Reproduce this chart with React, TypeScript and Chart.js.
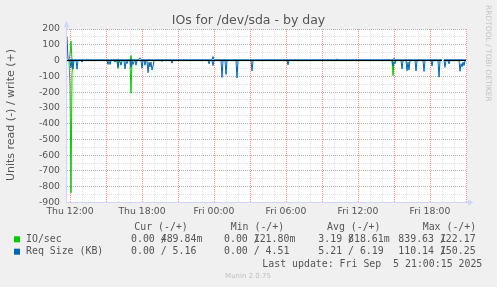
import React, { useEffect, useRef } from 'react';
import { Chart, registerables } from 'chart.js';

Chart.register(...registerables);

const W = 497;
const H = 287;

// time axis: minutes since Thu 12:00 (5-minute samples)
const xTickMinutes = [0, 360, 720, 1080, 1440, 1800];
const xTickLabels = ['Thu 12:00', 'Thu 18:00', 'Fri 00:00', 'Fri 06:00', 'Fri 12:00', 'Fri 18:00'];
const yTickValues = [200, 100, 0, -100, -200, -300, -400, -500, -600, -700, -800, -900];

type P = [number, number | null];

// IO/sec read (drawn negative)
const ioRead: P[] = [
  [-15, 0], [-5, 0], [0, -160], [5, -839], [10, -80], [15, 0],
  [235, 0], [240, -50], [245, 0],
  [300, 0], [305, -207], [310, 0],
  [1610, 0], [1615, -95], [1620, 0],
  [1860, 0], [1865, null], [1870, 0],
  [1980, 0],
];
// IO/sec write
const ioWrite: P[] = [
  [-15, 0], [-5, 0], [0, 40], [5, 122], [10, 0],
  [300, 0], [305, 32], [310, 0],
  [1860, 0], [1865, null], [1870, 0],
  [1980, 0],
];
// Req Size read (drawn negative)
const reqRead: P[] = [
  [-15, 0], [0, 0], [5, -45], [10, 0], [15, -55], [20, 0], [30, 0], [35, -55], [40, 0], [55, 0], [60, -10], [65, 0],
  [185, 0], [190, -25], [195, -5], [200, -25], [205, 0], [220, 0], [225, -10], [230, 0], [235, 0], [240, -43], [245, -5],
  [250, -5], [255, -30], [260, 0], [270, 0], [275, -53], [280, -5], [285, -20], [290, 0], [300, 0], [305, -43], [310, -5],
  [315, -25], [320, -5], [325, 0], [330, -30], [335, 0], [355, 0], [360, -49], [365, 0], [370, 0], [375, -30], [380, 0],
  [385, -5], [390, -77], [395, -10], [400, -40], [405, -10], [410, -60], [415, -35], [420, 0], [455, 0], [460, -5], [465, 0],
  [505, 0], [510, -17], [515, 0],
  [690, 0], [695, -21], [700, 0], [710, 0], [715, -32], [720, 0], [755, 0], [760, -107], [765, 0], [775, 0], [780, -88],
  [785, 0], [830, 0], [835, -110], [840, 0], [905, 0], [910, -66], [915, 0], [1085, 0], [1090, -28], [1095, 0],
  [1610, 0], [1615, -35], [1620, -10], [1625, -20], [1630, 0], [1655, 0], [1660, -53], [1665, 0], [1680, 0], [1685, -64],
  [1690, -10], [1695, -60], [1700, 0], [1725, 0], [1730, -66], [1735, 0], [1765, 0], [1770, -69], [1775, 0], [1805, 0],
  [1810, -35], [1815, 0], [1840, 0], [1845, -105], [1850, 0], [1860, 0], [1865, null], [1870, 0], [1875, -43], [1880, 0],
  [1890, 0], [1895, -21], [1900, 0], [1945, 0], [1950, -68], [1955, -20], [1960, -40], [1965, -10], [1970, -32], [1975, 0],
  [1980, 0],
];
// Req Size write
const reqWrite: P[] = [
  [-15, 150], [-10, 5], [235, 5], [240, 10], [245, 5], [300, 5], [305, 10], [310, 5], [345, 5], [350, 17], [355, 5],
  [710, 5], [715, 25], [720, 5], [1330, 5], [1335, 10], [1340, 5], [1615, 5], [1620, 15], [1625, 5],
  [1860, 5], [1865, null], [1870, 5], [1980, 5],
];
// zero line
const zeroLine: P[] = [[-15, 0], [1860, 0], [1865, null], [1870, 0], [1980, 0]];

const legendNames = ['IO/sec', 'Req Size (KB)'];
const legendColors = ['#00CC00', '#0066B3'];
const legendHeads = ['Cur (-/+)', 'Min (-/+)', 'Avg (-/+)', 'Max (-/+)'];
const curVals = [['0.00', '489.84m'], ['0.00', '5.16']];
const minVals = [['0.00', '121.80m'], ['0.00', '4.51']];
const avgVals = [['3.19', '818.61m'], ['5.21', '6.19']];
const maxVals = [['839.63', '122.17'], ['110.14', '150.25']];
const lastUpdate = 'Last update: Fri Sep  5 21:00:15 2025';
const muninVersion = 'Munin 2.0.75';
const titleText = 'IOs for /dev/sda - by day';
const yTitle = 'Units read (-) / write (+)';
const watermark = 'RRDTOOL / TOBI OETIKER';

const FONT = '#555555';
const AXIS = '#CFD6F8';
const GRID = '#E2E2E2';
const MGRID = '#E99C9C';

const pad6 = (s: string) => {
  const m = s.match(/^(-?[0-9.]+)(.*)$/);
  const num = m ? m[1] : s;
  const suf = m ? m[2] : '';
  return num.padStart(6, ' ') + suf;
};

const toXY = (arr: P[]) => arr.map(([x, y]) => ({ x, y }));

const muninPlugin = {
  id: 'munin',
  beforeDraw(chart: any) {
    const { ctx, chartArea: a } = chart;
    ctx.save();
    ctx.fillStyle = '#F0F0F0';
    ctx.fillRect(0, 0, chart.width, chart.height);
    ctx.fillStyle = '#FFFFFF';
    ctx.fillRect(a.left, a.top, a.right - a.left, a.bottom - a.top);
    ctx.restore();
  },
  afterDraw(chart: any) {
    const { ctx, chartArea: a } = chart;
    ctx.save();
    // axes
    ctx.strokeStyle = AXIS;
    ctx.fillStyle = AXIS;
    ctx.lineWidth = 1;
    ctx.beginPath();
    ctx.moveTo(a.left - 0.5, a.bottom + 0.5);
    ctx.lineTo(a.left - 0.5, a.top - 2);
    ctx.moveTo(a.left - 1, a.bottom);
    ctx.lineTo(a.right + 1, a.bottom);
    ctx.stroke();
    ctx.beginPath();
    ctx.moveTo(a.left - 0.5, a.top - 8);
    ctx.lineTo(a.left - 3.5, a.top - 1.5);
    ctx.lineTo(a.left + 2.5, a.top - 1.5);
    ctx.closePath();
    ctx.fill();
    ctx.beginPath();
    ctx.moveTo(a.right + 6.5, a.bottom);
    ctx.lineTo(a.right + 1, a.bottom - 3);
    ctx.lineTo(a.right + 1, a.bottom + 3);
    ctx.closePath();
    ctx.fill();

    // title
    ctx.fillStyle = FONT;
    ctx.font = '12.5px "DejaVu Sans"';
    ctx.textAlign = 'center';
    ctx.textBaseline = 'alphabetic';
    ctx.fillText(titleText, W / 2, 24);

    // y title
    ctx.save();
    ctx.translate(11, 115);
    ctx.rotate(-Math.PI / 2);
    ctx.font = '11px "DejaVu Sans"';
    ctx.textAlign = 'center';
    ctx.textBaseline = 'middle';
    ctx.fillText(yTitle, 0, 0);
    ctx.restore();

    // watermark
    ctx.save();
    ctx.translate(488.3, 5);
    ctx.rotate(Math.PI / 2);
    ctx.font = '7.5px "DejaVu Sans"';
    ctx.fillStyle = '#C4C4C4';
    ctx.textAlign = 'left';
    ctx.textBaseline = 'middle';
    ctx.fillText(watermark, 0, 0);
    ctx.restore();

    // legend
    ctx.font = '9.9px "DejaVu Sans Mono"';
    ctx.textBaseline = 'middle';
    ctx.textAlign = 'left';
    ctx.fillStyle = FONT;
    const cw = ctx.measureText('0').width;
    const headX = [134.3, 230.7, 327, 422.7];
    const colX = [119.1, 212.1, 306.4, 398.3];
    const rowY = [239.3, 251.7];
    legendHeads.forEach((h, i) => ctx.fillText(h, headX[i], 227.7));
    const cols = [curVals, minVals, avgVals, maxVals];
    legendNames.forEach((name, s) => {
      const y = rowY[s];
      ctx.fillStyle = legendColors[s];
      ctx.fillRect(14, y - 3, 6, 6);
      ctx.fillStyle = FONT;
      ctx.fillText(name, 26, y);
      cols.forEach((col, c) => {
        const [r, w] = col[s];
        ctx.fillText(pad6(r), colX[c], y);
        ctx.fillText('/', colX[c] + 7 * cw, y);
        ctx.fillText(pad6(w), colX[c] + 7 * cw, y);
      });
    });
    ctx.textAlign = 'right';
    ctx.fillText(lastUpdate, 482.3, 264);

    ctx.font = '7px "DejaVu Sans"';
    ctx.fillStyle = '#BEBEBE';
    ctx.textAlign = 'center';
    ctx.fillText(muninVersion, 248, 276);
    ctx.restore();
  },
};

export default function App() {
  const ref = useRef<HTMLCanvasElement>(null);
  useEffect(() => {
    document.body.style.margin = '0';
    const canvas = ref.current!;
    const hourTicks: number[] = [];
    for (let m = 0; m <= 1980; m += 60) hourTicks.push(m);
    const yGrid: number[] = [];
    for (let v = -900; v <= 200; v += 50) yGrid.push(v);
    const base = { borderWidth: 1, pointRadius: 0, tension: 0, spanGaps: false, fill: false };
    const chart = new Chart(canvas, {
      type: 'line',
      data: {
        datasets: [
          { ...base, label: 'zero', data: toXY(zeroLine), borderColor: '#000000', order: 1 },
          { ...base, label: 'reqWrite', data: toXY(reqWrite), borderColor: '#0066B3', order: 2 },
          { ...base, label: 'reqRead', data: toXY(reqRead), borderColor: '#0066B3', order: 3 },
          { ...base, label: 'ioWrite', data: toXY(ioWrite), borderColor: '#00CC00', order: 4 },
          { ...base, label: 'ioRead', data: toXY(ioRead), borderColor: '#00CC00', order: 5 },
        ] as any,
      },
      options: {
        responsive: false,
        animation: false,
        devicePixelRatio: 1,
        layout: { padding: { left: 0, top: 29, right: 30, bottom: 0 } },
        plugins: { legend: { display: false }, tooltip: { enabled: false }, title: { display: false } },
        scales: {
          x: {
            type: 'linear',
            min: -15,
            max: 1985,
            afterBuildTicks: (s: any) => { s.ticks = hourTicks.map((v) => ({ value: v })); },
            afterFit: (s: any) => { s.height = H - 202.5; },
            grid: {
              color: (c: any) => (c.tick && c.tick.value % 180 === 0 ? MGRID : GRID),
              lineWidth: 1,
              drawTicks: false,
            },
            border: { display: false, dash: [1, 1] },
            ticks: {
              autoSkip: false,
              maxRotation: 0,
              padding: 4,
              color: FONT,
              font: { family: 'DejaVu Sans', size: 9.3 },
              callback: (v: any) => {
                const i = xTickMinutes.indexOf(Number(v));
                return i >= 0 ? xTickLabels[i] : '';
              },
            },
          },
          y: {
            type: 'linear',
            min: -900,
            max: 200,
            afterBuildTicks: (s: any) => { s.ticks = yGrid.map((v) => ({ value: v })); },
            afterFit: (s: any) => { s.width = 67; },
            grid: {
              color: (c: any) => (c.tick && c.tick.value % 100 === 0 ? MGRID : GRID),
              lineWidth: 1,
              drawTicks: false,
            },
            border: { display: false, dash: [1, 1] },
            ticks: {
              autoSkip: false,
              padding: 7,
              color: FONT,
              font: { family: 'DejaVu Sans', size: 9.3 },
              callback: (v: any) => (yTickValues.indexOf(Number(v)) >= 0 ? String(v) : ''),
            },
          },
        },
      } as any,
      plugins: [muninPlugin],
    });
    return () => chart.destroy();
  }, []);
  return <canvas ref={ref} width={W} height={H} style={{ display: 'block', width: W, height: H }} />;
}
